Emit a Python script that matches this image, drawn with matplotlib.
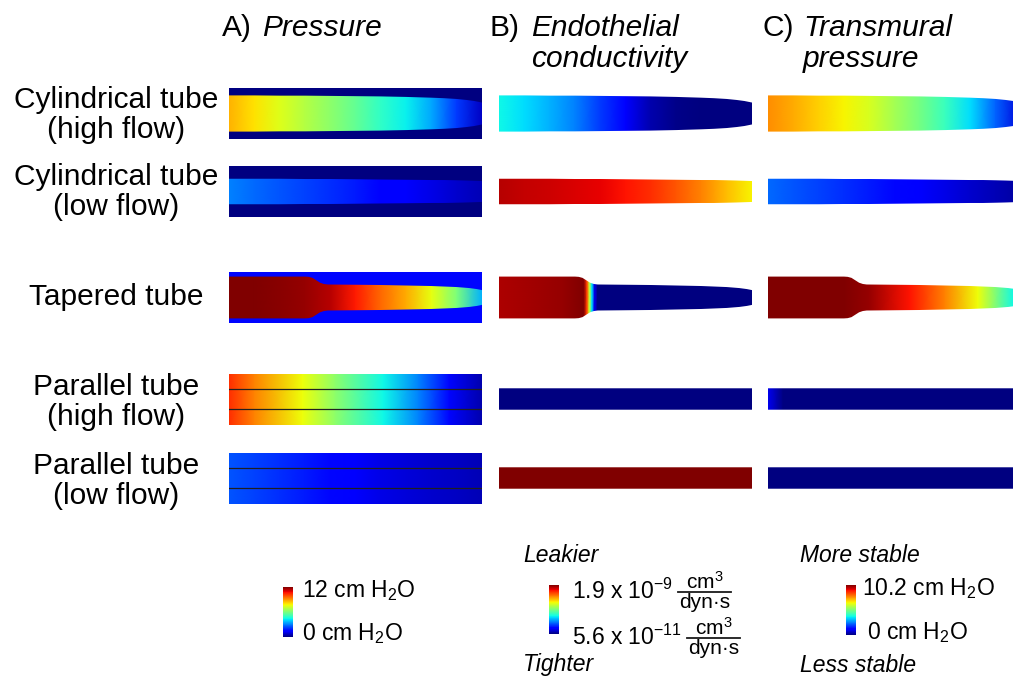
import numpy as np
import matplotlib
matplotlib.use('Agg')
import matplotlib.pyplot as plt
from matplotlib.patches import Polygon
from matplotlib.lines import Line2D
from matplotlib.colors import Normalize
from matplotlib.cm import ScalarMappable

plt.rcParams['font.family'] = ['Liberation Sans', 'DejaVu Sans']
plt.rcParams['mathtext.fontset'] = 'custom'
plt.rcParams['mathtext.rm'] = 'Liberation Sans'
plt.rcParams['mathtext.it'] = 'Liberation Sans:italic'
plt.rcParams['mathtext.bf'] = 'Liberation Sans:bold'

# ---- data -------------------------------------------------------------
row_labels = ['Cylindrical tube\n(high flow)', 'Cylindrical tube\n(low flow)',
              'Tapered tube', 'Parallel tube\n(high flow)', 'Parallel tube\n(low flow)']
col_tags = ['A)', 'B)', 'C)']
col_titles = ['Pressure', 'Endothelial\nconductivity', 'Transmural\npressure']

# positions along the tube (0 = inlet, 1 = outlet)
s11 = [0, .1, .2, .3, .4, .5, .6, .7, .8, .9, 1]

# lumen half width (fraction of panel half height)
s_cyl = [0, .1, .2, .3, .4, .5, .6, .7, .8, .85, .9, .94, .97, 1]
r_cyl_high = [.71, .71, .70, .70, .69, .68, .67, .65, .62, .60, .57, .53, .49, .43]
r_cyl_low = [.50, .50, .50, .49, .49, .48, .47, .46, .45, .45, .44, .43, .42, .41]
s_taper = [0, .30, .315, .33, .36, .375, .39, .5, .6, .7, .8, .9, .95, .98, 1]
r_taper = [.82, .82, .81, .77, .58, .53, .51, .50, .49, .47, .45, .41, .37, .33, .29]
s_par = [0, 1]
r_par = [.42, .42]

# fields, scaled to the colour bar (0 = bottom, 1 = top)
p_wall = [0.0, 0.0, 0.13]
p_cyl_high = [.72, .67, .62, .57, .52, .47, .41, .36, .29, .18, .06]
p_cyl_low = [.25, .23, .21, .19, .17, .15, .12, .11, .09, .07, .05]
p_taper = [1.0, 1.0, .99, .98, .95, .88, .80, .73, .63, .50, .30]
s_p_par_high = [0, .1, .29, .42, .61, .75, .87, 1]
p_par_high = [.86, .77, .64, .52, .37, .25, .13, .04]
p_par_low = [.21, .19, .17, .15, .13, .11, .09, .08, .07, .06, .05]

k_cyl_high = [.37, .34, .30, .25, .18, .11, .04, .01, 0, 0, 0]
k_cyl_low = [.95, .94, .93, .92, .91, .89, .86, .82, .77, .71, .65]
s_k_taper = [0, .25, .335, .347, .357, .367, .377, .39, 1]
k_taper = [.96, .98, 1.0, .85, .6, .35, .1, 0, 0]
k_par_high = [0, 0]
k_par_low = [1, 1]

t_cyl_high = [.76, .73, .69, .65, .61, .55, .49, .42, .34, .22, .08]
t_cyl_low = [.23, .21, .19, .17, .15, .13, .11, .09, .07, .05, .03]
s_t_taper = [0, .3, .4, .56, .7, .83, .97, 1]
t_taper = [1, 1, .98, .89, .77, .64, .37, .33]
s_t_par_high = [0, .06, 1]
t_par_high = [.1, 0, 0]
t_par_low = [0, 0]

# colour bar ranges
p_range = [0, 12]
k_range = [5.6e-11, 1.9e-9]
t_range = [0, 10.2]

# ---- layout -------------------------------------------------------------
W, H = 1013, 677
col_x = [229, 499, 768]
pw = 253
row_cy = [113.5, 191.5, 297.5, 399, 478]
hh = 25.5

fig = plt.figure(figsize=(W / 100, H / 100), dpi=100)
cmap = plt.get_cmap('jet')


def panel(col, row):
    ax = fig.add_axes([col_x[col] / W, 1 - (row_cy[row] + hh) / H, pw / W, 2 * hh / H])
    ax.set_xlim(0, 1)
    ax.set_ylim(-1, 1)
    ax.set_axis_off()
    return ax


def field(ax, s, v):
    X, Y = np.meshgrid(np.asarray(s, float), [-1, 1])
    v = np.asarray(v, float)
    ax.pcolormesh(X, Y, np.vstack([v, v]), cmap=cmap, vmin=0, vmax=1,
                  shading='gouraud', zorder=1)


def mask(ax, shape, color):
    # cover what lies outside the lumen (above and below)
    rs, rr = np.asarray(shape[0], float), np.asarray(shape[1], float)
    for sign in (1, -1):
        pts = np.column_stack([np.concatenate([rs, [1.05, -0.05]]),
                               sign * np.concatenate([rr, [1.1, 1.1]])])
        pts = np.vstack([[-0.05, sign * rr[0]], pts])
        ax.add_patch(Polygon(pts, closed=True, facecolor=color, edgecolor='none',
                             lw=0, zorder=2))


shapes = [(s_cyl, r_cyl_high), (s_cyl, r_cyl_low), (s_taper, r_taper),
          (s_par, r_par), (s_par, r_par)]

# A) pressure
fields_a = [(s11, p_cyl_high), (s11, p_cyl_low), (s11, p_taper)]
for i in range(3):
    ax = panel(0, i)
    field(ax, fields_a[i][0], fields_a[i][1])
    mask(ax, shapes[i], cmap(p_wall[i]))
for i, (s, v) in zip([3, 4], [(s_p_par_high, p_par_high), (s11, p_par_low)]):
    ax = panel(0, i)
    field(ax, s, v)
    for y in (-0.4, 0.4):
        ax.axhline(y, color='#202020', lw=0.9, zorder=3)

# B) endothelial conductivity
fields_b = [(s11, k_cyl_high), (s11, k_cyl_low), (s_k_taper, k_taper),
            ([0, 1], k_par_high), ([0, 1], k_par_low)]
for i, (s, v) in enumerate(fields_b):
    ax = panel(1, i)
    field(ax, s, v)
    mask(ax, shapes[i], 'white')

# C) transmural pressure
fields_c = [(s11, t_cyl_high), (s11, t_cyl_low), (s_t_taper, t_taper),
            (s_t_par_high, t_par_high), ([0, 1], t_par_low)]
for i, (s, v) in enumerate(fields_c):
    ax = panel(2, i)
    field(ax, s, v)
    mask(ax, shapes[i], 'white')

# row labels
label_y = [115, 192, 297, 402, 481]
for lab, y in zip(row_labels, label_y):
    fig.text(116 / W, 1 - y / H, lab, ha='center', va='center', fontsize=21.5,
             linespacing=1.08)

# column titles
tag_x = [222, 489, 762]
title_x = [262, 531, 803]
for tag, title, tx, ttx in zip(col_tags, col_titles, tag_x, title_x):
    fig.text(tx / W, 1 - 28 / H, tag, ha='left', va='center', fontsize=21.5)
    for j, line in enumerate(title.split('\n')):
        fig.text(ttx / W, 1 - (28 + 31 * j) / H, line, ha='left', va='center',
                 fontsize=21.5, style='italic')


# colour bars
def cbar(x, y0, y1, rng):
    cax = fig.add_axes([x / W, 1 - y1 / H, 10 / W, (y1 - y0) / H])
    cb = fig.colorbar(ScalarMappable(norm=Normalize(rng[0], rng[1]), cmap=cmap),
                      cax=cax, ticks=[])
    cb.outline.set_visible(False)


def sci(v):
    m, e = f'{v:.1e}'.split('e')
    return m + r' x 10$^{' + str(int(e)) + '}$'


fs = 16.5
ffs = 15
renderer = fig.canvas.get_renderer()


def sci_label(x, y, v):
    # number, then a stacked cm3 / dyn.s fraction just after it
    t = fig.text(x / W, 1 - y / H, sci(v), va='center', fontsize=fs)
    bb = t.get_window_extent(renderer)
    den = fig.text(0, 0, 'dyn·s', ha='center', va='top', fontsize=ffs)
    dw = den.get_window_extent(renderer).width
    xc = bb.x1 + 6 + dw / 2
    yb = H - y - 1
    den.set_position((xc / W, (yb - 1) / H))
    fig.text(xc / W, (yb + 3) / H, 'cm$^3$', ha='center', va='baseline', fontsize=ffs)
    fig.add_artist(Line2D([(xc - dw / 2 - 1) / W, (xc + dw / 2 + 1) / W],
                          [yb / H, yb / H], color='#1a1a1a', lw=1.3))


cbar(283, 587, 637, p_range)
fig.text(302 / W, 1 - 591 / H, f'{p_range[1]:g} cm H$_2$O', va='center', fontsize=fs)
fig.text(302 / W, 1 - 634 / H, f'{p_range[0]:g} cm H$_2$O', va='center', fontsize=fs)

cbar(549, 585, 634, k_range)
fig.text(523 / W, 1 - 555 / H, 'Leakier', va='center', fontsize=fs, style='italic')
sci_label(572, 591, k_range[1])
sci_label(572, 637, k_range[0])
fig.text(523 / W, 1 - 664 / H, 'Tighter', va='center', fontsize=fs, style='italic')

cbar(846, 585, 635, t_range)
fig.text(800 / W, 1 - 555 / H, 'More stable', va='center', fontsize=fs, style='italic')
fig.text(862 / W, 1 - 589 / H, f'{t_range[1]:g} cm H$_2$O', va='center', fontsize=fs)
fig.text(867 / W, 1 - 633 / H, f'{t_range[0]:g} cm H$_2$O', va='center', fontsize=fs)
fig.text(800 / W, 1 - 665 / H, 'Less stable', va='center', fontsize=fs, style='italic')

fig.savefig('out.png', dpi=100)
